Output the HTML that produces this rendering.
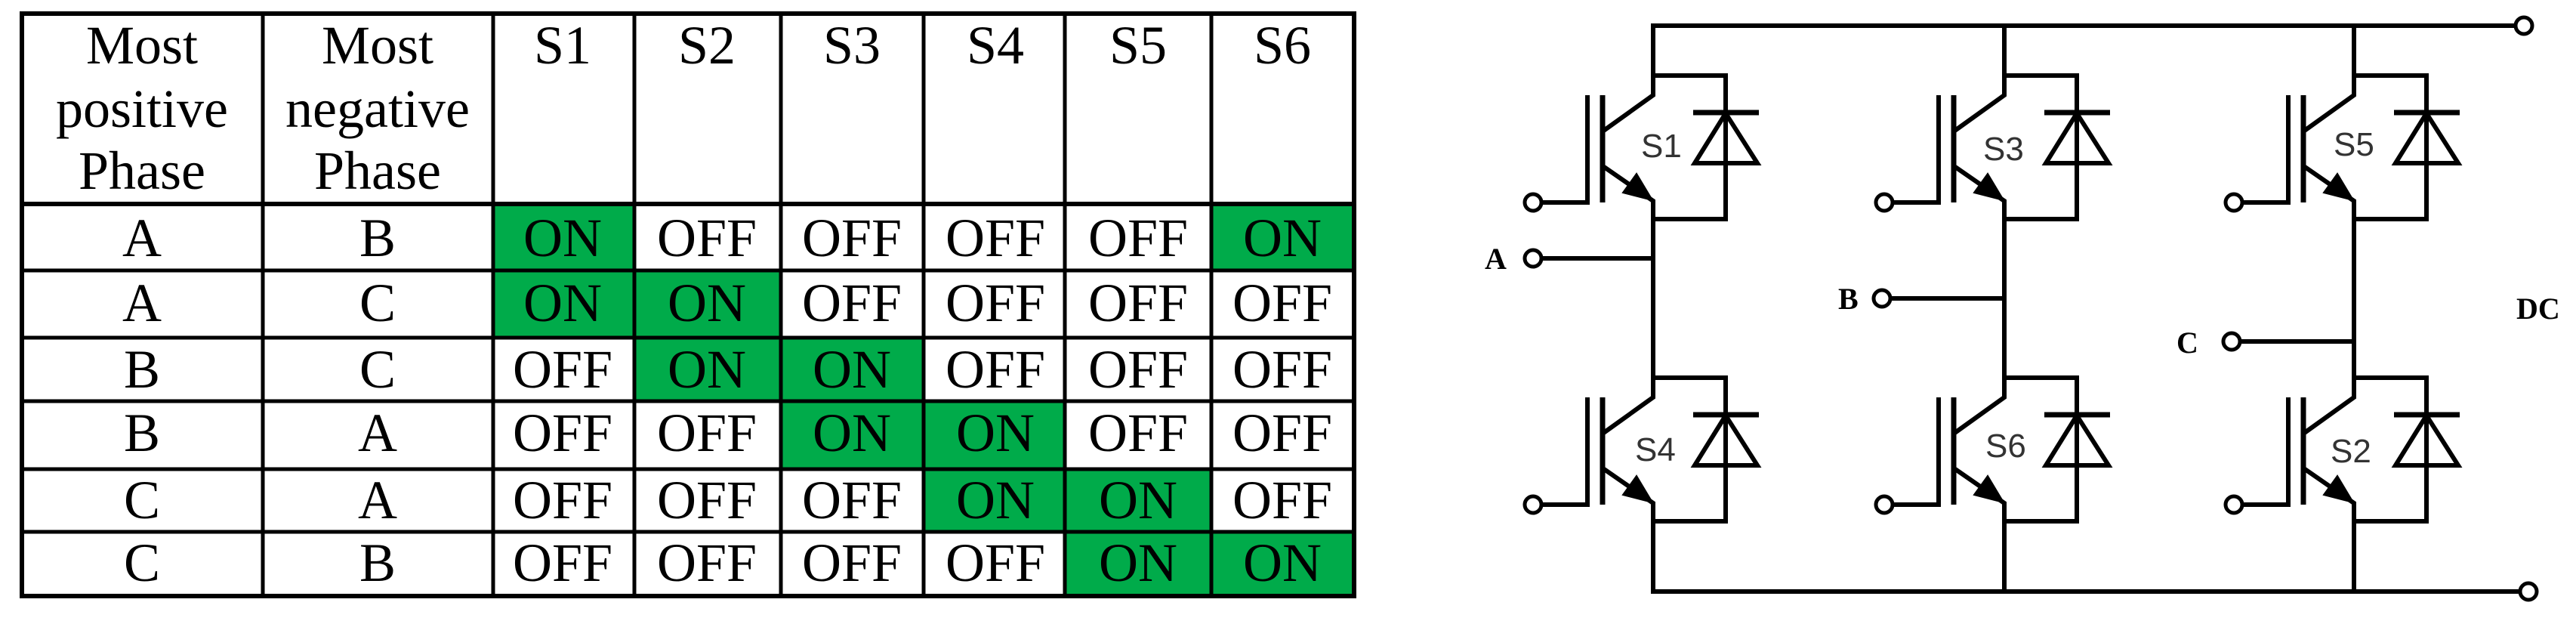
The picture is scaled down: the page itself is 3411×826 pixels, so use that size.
<!DOCTYPE html>
<html><head><meta charset="utf-8"><style>
html,body{margin:0;padding:0;background:#fff;width:3411px;height:826px;overflow:hidden}
svg{position:absolute;left:0;top:0}
</style></head><body>
<svg width="3411" height="826" viewBox="0 0 3411 826" xmlns="http://www.w3.org/2000/svg">
<defs>
<g id="sw" fill="none" stroke="#000" stroke-width="6">
  <polyline points="0,0 96,0 96,190 0,190"/>
  <polyline points="0,0 0,26 -67,74"/>
  <line x1="-67" y1="26" x2="-67" y2="168" stroke-width="7"/>
  <line x1="-87" y1="26" x2="-87" y2="171"/>
  <line x1="-148" y1="168" x2="-87" y2="168"/>
  <circle cx="-159" cy="168" r="11" stroke-width="5" fill="#fff"/>
  <polyline points="-65,121 0,166 0,190"/>
  <polygon points="-1,165 -40,155 -22,130" fill="#000" stroke-width="2"/>
  <polygon points="55,116 138,116 96,50" stroke-width="6"/>
  <line x1="53" y1="49" x2="140" y2="49" stroke-width="7"/>
</g>
</defs>

<!-- TABLE -->
<g fill="#00ab4a">
  <rect x="653" y="270" width="187" height="88"/>
  <rect x="1604" y="270" width="189" height="88"/>
  <rect x="653" y="358" width="187" height="89"/>
  <rect x="840" y="358" width="194" height="89"/>
  <rect x="840" y="447" width="194" height="84"/>
  <rect x="1034" y="447" width="189" height="84"/>
  <rect x="1034" y="531" width="189" height="90"/>
  <rect x="1223" y="531" width="187" height="90"/>
  <rect x="1223" y="621" width="187" height="83"/>
  <rect x="1410" y="621" width="194" height="83"/>
  <rect x="1410" y="704" width="194" height="85"/>
  <rect x="1604" y="704" width="189" height="85"/>
</g>
<g stroke="#000" stroke-width="5" fill="none">
  <rect x="29" y="18" width="1764" height="771" stroke-width="6"/>
  <line x1="348" y1="18" x2="348" y2="789"/>
  <line x1="653" y1="18" x2="653" y2="789"/>
  <line x1="840" y1="18" x2="840" y2="789"/>
  <line x1="1034" y1="18" x2="1034" y2="789"/>
  <line x1="1223" y1="18" x2="1223" y2="789"/>
  <line x1="1410" y1="18" x2="1410" y2="789"/>
  <line x1="1604" y1="18" x2="1604" y2="789"/>
  <line x1="29" y1="270" x2="1793" y2="270" stroke-width="6"/>
  <line x1="29" y1="358" x2="1793" y2="358"/>
  <line x1="29" y1="447" x2="1793" y2="447"/>
  <line x1="29" y1="531" x2="1793" y2="531"/>
  <line x1="29" y1="621" x2="1793" y2="621"/>
  <line x1="29" y1="704" x2="1793" y2="704"/>
</g>
<g font-family="'Liberation Serif',serif" font-size="72" text-anchor="middle" fill="#000">
  <text x="188" y="84">Most</text><text x="188" y="168">positive</text><text x="188" y="250">Phase</text>
  <text x="500" y="84">Most</text><text x="500" y="168">negative</text><text x="500" y="250">Phase</text>
  <text x="745" y="84">S1</text>
  <text x="936" y="84">S2</text>
  <text x="1128" y="84">S3</text>
  <text x="1318" y="84">S4</text>
  <text x="1507" y="84">S5</text>
  <text x="1698" y="84">S6</text>
</g>
<g font-family="'Liberation Serif',serif" font-size="72" text-anchor="middle" fill="#000">
  <text x="188" y="339">A</text><text x="500" y="339">B</text>
  <text x="745" y="339">ON</text><text x="936" y="339">OFF</text><text x="1128" y="339">OFF</text><text x="1318" y="339">OFF</text><text x="1507" y="339">OFF</text><text x="1698" y="339">ON</text>
  <text x="188" y="425">A</text><text x="500" y="425">C</text>
  <text x="745" y="425">ON</text><text x="936" y="425">ON</text><text x="1128" y="425">OFF</text><text x="1318" y="425">OFF</text><text x="1507" y="425">OFF</text><text x="1698" y="425">OFF</text>
  <text x="188" y="513">B</text><text x="500" y="513">C</text>
  <text x="745" y="513">OFF</text><text x="936" y="513">ON</text><text x="1128" y="513">ON</text><text x="1318" y="513">OFF</text><text x="1507" y="513">OFF</text><text x="1698" y="513">OFF</text>
  <text x="188" y="597">B</text><text x="500" y="597">A</text>
  <text x="745" y="597">OFF</text><text x="936" y="597">OFF</text><text x="1128" y="597">ON</text><text x="1318" y="597">ON</text><text x="1507" y="597">OFF</text><text x="1698" y="597">OFF</text>
  <text x="188" y="686">C</text><text x="500" y="686">A</text>
  <text x="745" y="686">OFF</text><text x="936" y="686">OFF</text><text x="1128" y="686">OFF</text><text x="1318" y="686">ON</text><text x="1507" y="686">ON</text><text x="1698" y="686">OFF</text>
  <text x="188" y="769">C</text><text x="500" y="769">B</text>
  <text x="745" y="769">OFF</text><text x="936" y="769">OFF</text><text x="1128" y="769">OFF</text><text x="1318" y="769">OFF</text><text x="1507" y="769">ON</text><text x="1698" y="769">ON</text>
</g>

<!-- CIRCUIT -->
<g stroke="#000" stroke-width="6" fill="none">
  <line x1="2189" y1="34" x2="3331" y2="34"/>
  <line x1="2189" y1="783" x2="3337" y2="783"/>
  <circle cx="3342" cy="34" r="11" stroke-width="5" fill="#fff"/>
  <circle cx="3348" cy="783" r="11" stroke-width="5" fill="#fff"/>
  <line x1="2189" y1="31" x2="2189" y2="100"/><line x1="2189" y1="290" x2="2189" y2="500"/><line x1="2189" y1="690" x2="2189" y2="786"/>
  <line x1="2654" y1="31" x2="2654" y2="100"/><line x1="2654" y1="290" x2="2654" y2="500"/><line x1="2654" y1="690" x2="2654" y2="786"/>
  <line x1="3117" y1="31" x2="3117" y2="100"/><line x1="3117" y1="290" x2="3117" y2="500"/><line x1="3117" y1="690" x2="3117" y2="786"/>
  <line x1="2041" y1="342" x2="2189" y2="342"/>
  <line x1="2503" y1="395" x2="2654" y2="395"/>
  <line x1="2966" y1="452" x2="3117" y2="452"/>
  <circle cx="2030" cy="342" r="11" stroke-width="5" fill="#fff"/>
  <circle cx="2492" cy="395" r="11" stroke-width="5" fill="#fff"/>
  <circle cx="2955" cy="452" r="11" stroke-width="5" fill="#fff"/>
</g>
<use href="#sw" transform="translate(2189,100)"/>
<use href="#sw" transform="translate(2189,500)"/>
<use href="#sw" transform="translate(2654,100)"/>
<use href="#sw" transform="translate(2654,500)"/>
<use href="#sw" transform="translate(3117,100)"/>
<use href="#sw" transform="translate(3117,500)"/>
<g font-family="'Liberation Sans',sans-serif" font-size="44" fill="#333">
  <text x="2173" y="208">S1</text>
  <text x="2626" y="212">S3</text>
  <text x="3090" y="206">S5</text>
  <text x="2165" y="610">S4</text>
  <text x="2629" y="605">S6</text>
  <text x="3086" y="612">S2</text>
</g>
<g font-family="'Liberation Serif',serif" font-size="40" font-weight="bold" fill="#000">
  <text x="1966" y="356">A</text>
  <text x="2434" y="409">B</text>
  <text x="2882" y="467">C</text>
  <text x="3332" y="422">DC</text>
</g>
</svg>
</body></html>
